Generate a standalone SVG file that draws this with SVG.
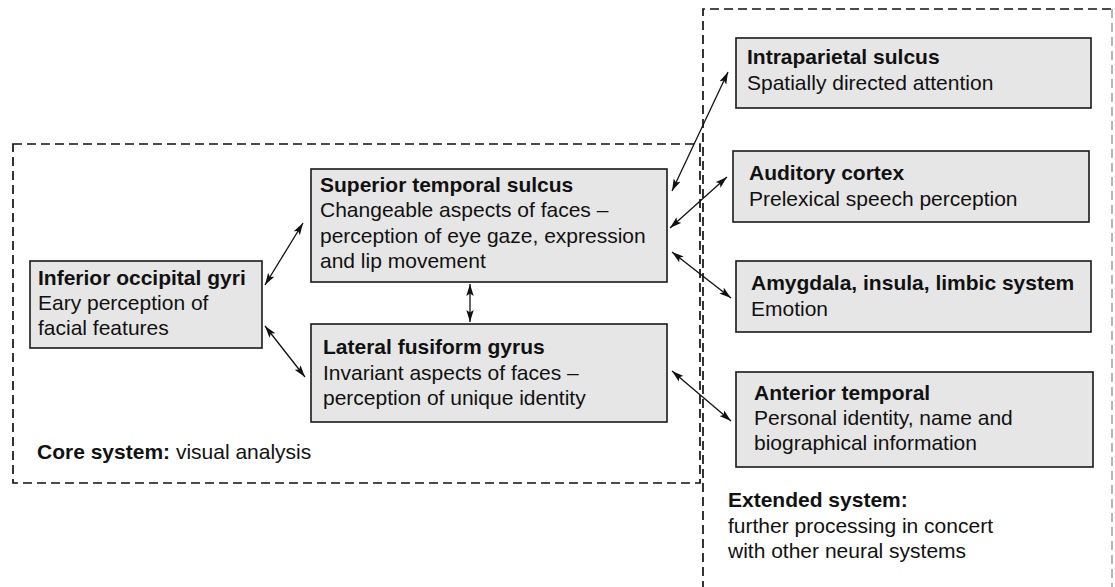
<svg xmlns="http://www.w3.org/2000/svg" width="1115" height="587" viewBox="0 0 1115 587">
<defs>
<marker id="ah" viewBox="0 0 12 8" refX="12" refY="4" markerWidth="12" markerHeight="8" markerUnits="userSpaceOnUse" orient="auto-start-reverse">
<path d="M0,0.3 L12,4 L0,7.7 L2.5,4 z" fill="#111"/>
</marker>
</defs>
<style>
.bg{fill:#fff}
.box{fill:#e6e6e6;stroke:#1a1a1a;stroke-width:1.6}
.dash{fill:none;stroke:#111;stroke-width:1.7;stroke-dasharray:9,5}
.t{font-family:"Liberation Sans",Arial,sans-serif;font-size:21px;fill:#111}
.b{font-weight:bold}
.con line{stroke:#111;stroke-width:1.3;marker-start:url(#ah);marker-end:url(#ah)}
</style>
<rect class="bg" x="0" y="0" width="1115" height="587"/>
<g id="core-system">
<rect class="dash" x="13" y="144" width="687" height="339"/>
<text class="t" x="37" y="459"><tspan class="b">Core system:</tspan> visual analysis</text>
</g>
<g id="extended-system">
<path class="dash" d="M703,590 V9 H1112"/>
<path class="dash" d="M1112,9 V590" style="stroke:#aaa"/>
<text class="t" x="728" y="507"><tspan class="b">Extended system:</tspan><tspan x="728" dy="25.5">further processing in concert</tspan><tspan x="728" dy="25.5">with other neural systems</tspan></text>
</g>
<g id="inferior-occipital">
<rect class="box" x="30" y="261" width="232" height="87"/>
<text class="t" x="38" y="285"><tspan class="b">Inferior occipital gyri</tspan><tspan x="38" dy="25">Eary perception of</tspan><tspan x="38" dy="25">facial features</tspan></text>
</g>
<g id="superior-temporal">
<rect class="box" x="311" y="169" width="356" height="113"/>
<text class="t" x="320" y="192"><tspan class="b">Superior temporal sulcus</tspan><tspan x="320" dy="25">Changeable aspects of faces –</tspan><tspan x="320" dy="25.5">perception of eye gaze, expression</tspan><tspan x="320" dy="25.5">and lip movement</tspan></text>
</g>
<g id="lateral-fusiform">
<rect class="box" x="311" y="324" width="356" height="98"/>
<text class="t" x="323" y="354"><tspan class="b">Lateral fusiform gyrus</tspan><tspan x="323" dy="25.5">Invariant aspects of faces –</tspan><tspan x="323" dy="25.5">perception of unique identity</tspan></text>
</g>
<g id="intraparietal">
<rect class="box" x="736" y="38" width="355" height="70"/>
<text class="t" x="747" y="64"><tspan class="b">Intraparietal sulcus</tspan><tspan x="747" dy="26">Spatially directed attention</tspan></text>
</g>
<g id="auditory">
<rect class="box" x="733" y="151" width="356" height="71"/>
<text class="t" x="749" y="180"><tspan class="b">Auditory cortex</tspan><tspan x="749" dy="25.5">Prelexical speech perception</tspan></text>
</g>
<g id="amygdala">
<rect class="box" x="736" y="261" width="355" height="71"/>
<text class="t" x="751" y="290"><tspan class="b">Amygdala, insula, limbic system</tspan><tspan x="751" dy="25.5">Emotion</tspan></text>
</g>
<g id="anterior-temporal">
<rect class="box" x="736" y="372" width="357" height="95"/>
<text class="t" x="754" y="400"><tspan class="b">Anterior temporal</tspan><tspan x="754" dy="25">Personal identity, name and</tspan><tspan x="754" dy="25">biographical information</tspan></text>
</g>
<g id="connectors" class="con">
<line x1="265" y1="285" x2="303" y2="223"/>
<line x1="265" y1="326" x2="305" y2="377"/>
<line x1="470" y1="284" x2="470" y2="322"/>
<line x1="672" y1="191" x2="728" y2="72"/>
<line x1="670" y1="228" x2="727" y2="177"/>
<line x1="672" y1="252" x2="731" y2="298"/>
<line x1="672" y1="371" x2="731" y2="421"/>
</g>
</svg>
